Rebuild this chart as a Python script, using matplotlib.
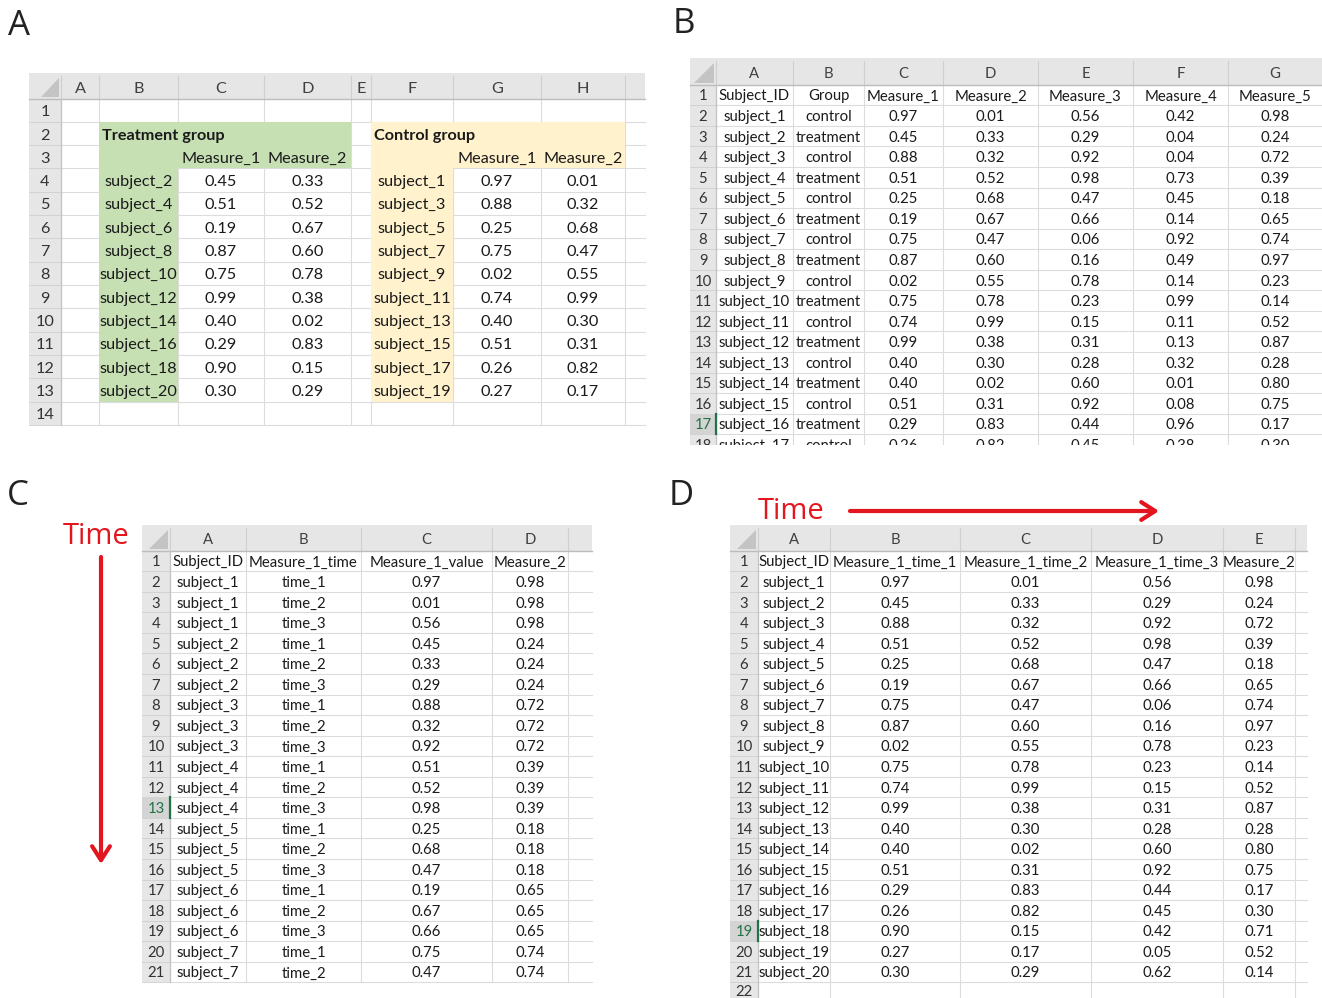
"""
Four spreadsheet layouts of the same small data set:
A grouped blocks, B one row per subject, C long format, D wide format.
"""

import numpy as np
import matplotlib
matplotlib.use("Agg")
import matplotlib.pyplot as plt
from matplotlib.patches import Rectangle, Polygon

subjects = ["subject_1", "subject_2", "subject_3", "subject_4", "subject_5",
            "subject_6", "subject_7", "subject_8", "subject_9", "subject_10",
            "subject_11", "subject_12", "subject_13", "subject_14", "subject_15",
            "subject_16", "subject_17", "subject_18", "subject_19", "subject_20"]
group = ["control", "treatment", "control", "treatment", "control",
         "treatment", "control", "treatment", "control", "treatment",
         "control", "treatment", "control", "treatment", "control",
         "treatment", "control", "treatment", "control", "treatment"]
measure_1 = [0.97, 0.45, 0.88, 0.51, 0.25, 0.19, 0.75, 0.87, 0.02, 0.75,
             0.74, 0.99, 0.40, 0.40, 0.51, 0.29, 0.26, 0.90, 0.27, 0.30]
measure_2 = [0.01, 0.33, 0.32, 0.52, 0.68, 0.67, 0.47, 0.60, 0.55, 0.78,
             0.99, 0.38, 0.30, 0.02, 0.31, 0.83, 0.82, 0.15, 0.17, 0.29]
measure_3 = [0.56, 0.29, 0.92, 0.98, 0.47, 0.66, 0.06, 0.16, 0.78, 0.23,
             0.15, 0.31, 0.28, 0.60, 0.92, 0.44, 0.45, 0.42, 0.05, 0.62]
# only the first 17 subjects are visible for this one
measure_4 = [0.42, 0.04, 0.04, 0.73, 0.45, 0.14, 0.92, 0.49, 0.14, 0.99,
             0.11, 0.13, 0.32, 0.01, 0.08, 0.96, 0.38]
measure_5 = [0.98, 0.24, 0.72, 0.39, 0.18, 0.65, 0.74, 0.97, 0.23, 0.14,
             0.52, 0.87, 0.28, 0.80, 0.75, 0.17, 0.30, 0.71, 0.52, 0.14]
time_labels = ["time_1", "time_2", "time_3"]

CELL_FONT = "Lato"
LABEL_FONT = "Open Sans"
GREEN = "#c6e0b4"
YELLOW = "#fff2cc"
HEAD = "#e6e6e6"
HEAD_LINE = "#cfcfcf"
GRID = "#dcdcdc"
RED = "#e3151e"
TEXT = "#1a1a1a"


def fmt(v):
    return f"{v:.2f}"


def draw_sheet(ax, edges, top, head_h, row_h, rows, letters, fills=None,
               bold=(), left=(), active=None, size=11.5):
    fills = fills or {}
    x0, x1 = edges[0], edges[-1]
    body = top + head_h
    bottom = body + len(rows) * row_h

    # header band and row-number column
    ax.add_patch(Rectangle((x0, top), x1 - x0, head_h, fc=HEAD, ec="none", zorder=1))
    ax.add_patch(Rectangle((x0, body), edges[1] - x0, bottom - body,
                           fc=HEAD, ec="none", zorder=1))

    for k in range(1, len(rows) + 1):
        y = body + k * row_h
        ax.plot([edges[1], x1], [y, y], color=GRID, lw=0.8, zorder=2)
        ax.plot([x0, edges[1]], [y, y], color=HEAD_LINE, lw=0.6, zorder=2)
    for x in edges[1:-1]:
        ax.plot([x, x], [body, bottom], color=GRID, lw=0.8, zorder=2)
        ax.plot([x, x], [top + 3, body], color=HEAD_LINE, lw=0.8, zorder=2)

    for (r, c), col in fills.items():
        ax.add_patch(Rectangle((edges[c + 1], body + r * row_h),
                               edges[c + 2] - edges[c + 1], row_h,
                               fc=col, ec="none", zorder=3))

    ax.plot([x0, x1], [body, body], color="#bcbcbc", lw=1.0, zorder=4)
    ax.plot([edges[1], edges[1]], [body, bottom], color="#c4c4c4", lw=0.9, zorder=4)

    # little corner triangle
    s = head_h - 7
    xr, yb = edges[1] - 2, body - 2
    ax.add_patch(Polygon([(xr, yb - s), (xr, yb), (xr - s, yb)], closed=True,
                         fc="#c4c4c4", ec="none", zorder=4))

    off = size * 100 / 72 * 0.37
    for i, letter in enumerate(letters):
        xc = (edges[i + 1] + edges[i + 2]) / 2
        ax.text(xc, top + head_h / 2 + off + 1, letter, ha="center", va="baseline",
                fontsize=size, color="#404040", family=CELL_FONT, zorder=5)

    for r, row in enumerate(rows):
        yc = body + (r + 0.5) * row_h
        num_color = "#333333"
        if active == r:
            ax.add_patch(Rectangle((x0, body + r * row_h), edges[1] - x0, row_h,
                                   fc="#d4d4d4", ec="none", zorder=3))
            ax.plot([edges[1], edges[1]], [body + r * row_h, body + (r + 1) * row_h],
                    color="#217346", lw=1.6, zorder=6)
            num_color = "#217346"
        ax.text((x0 + edges[1]) / 2, min(yc + off, 996), str(r + 1), ha="center",
                va="baseline", fontsize=size, color=num_color, family=CELL_FONT, zorder=5)
        for c, txt in enumerate(row):
            if not txt:
                continue
            if (r, c) in left:
                x, ha = edges[c + 1] + 3, "left"
            else:
                x, ha = (edges[c + 1] + edges[c + 2]) / 2, "center"
            ax.text(x, yc + off, txt, ha=ha, va="baseline", fontsize=size,
                    fontweight="bold" if (r, c) in bold else "normal",
                    color=TEXT, family=CELL_FONT, zorder=5)


fig = plt.figure(figsize=(13.22, 9.98), dpi=100)
ax = fig.add_axes([0, 0, 1, 1])
ax.set_xlim(0, 1322)
ax.set_ylim(998, 0)
ax.axis("off")

# ---- A: separate blocks per group
treat = [i for i, g in enumerate(group) if g == "treatment"]
ctrl = [i for i, g in enumerate(group) if g == "control"]
rows_a = [[""] * 9 for _ in range(14)]
rows_a[1][1] = "Treatment group"
rows_a[1][5] = "Control group"
rows_a[2][2:4] = ["Measure_1", "Measure_2"]
rows_a[2][6:8] = ["Measure_1", "Measure_2"]
for k, (t, c) in enumerate(zip(treat, ctrl)):
    rows_a[3 + k][1:4] = [subjects[t], fmt(measure_1[t]), fmt(measure_2[t])]
    rows_a[3 + k][5:8] = [subjects[c], fmt(measure_1[c]), fmt(measure_2[c])]
fills_a = {}
for r in (1, 2):
    for c in (1, 2, 3):
        fills_a[(r, c)] = GREEN
    for c in (5, 6, 7):
        fills_a[(r, c)] = YELLOW
for r in range(3, 13):
    fills_a[(r, 1)] = GREEN
    fills_a[(r, 5)] = YELLOW
draw_sheet(ax, [29, 61, 99, 178, 264, 351, 371, 453, 541, 625, 645], 73, 25.5, 23.33,
           rows_a, list("ABCDEFGH") + [""], fills=fills_a,
           bold={(1, 1), (1, 5)}, left={(1, 1), (1, 5)}, size=11.7)

# ---- B: one row per subject
rows_b = [["Subject_ID", "Group", "Measure_1", "Measure_2",
           "Measure_3", "Measure_4", "Measure_5"]]
for i in range(len(measure_4)):
    rows_b.append([subjects[i], group[i], fmt(measure_1[i]), fmt(measure_2[i]),
                   fmt(measure_3[i]), fmt(measure_4[i]), fmt(measure_5[i])])
draw_sheet(ax, [690, 716, 793, 864, 943, 1038, 1133, 1228, 1322], 58, 26.7, 20.56,
           rows_b, list("ABCDEFG"), active=16, size=10.7)
ax.add_patch(Rectangle((680, 445), 642, 25, fc="white", ec="none", zorder=10))

# ---- C: long format, time down the rows
rows_c = [["Subject_ID", "Measure_1_time", "Measure_1_value", "Measure_2", ""]]
by_time = [measure_1, measure_2, measure_3]
for i in range(7):
    for t, lab in enumerate(time_labels):
        rows_c.append([subjects[i], lab, fmt(by_time[t][i]), fmt(measure_5[i]), ""])
rows_c = rows_c[:21]
draw_sheet(ax, [142, 170, 246, 361, 492, 568, 592], 525, 25.7, 20.55,
           rows_c, ["A", "B", "C", "D", ""], active=12, size=10.7)

# ---- D: wide format, time across the columns
rows_d = [["Subject_ID", "Measure_1_time_1", "Measure_1_time_2",
           "Measure_1_time_3", "Measure_2", ""]]
for i in range(len(subjects)):
    rows_d.append([subjects[i], fmt(measure_1[i]), fmt(measure_2[i]),
                   fmt(measure_3[i]), fmt(measure_5[i]), ""])
rows_d.append([""] * 6)
draw_sheet(ax, [730, 758, 830, 960, 1091, 1223, 1295, 1307], 525, 25.7, 20.55,
           rows_d, ["A", "B", "C", "D", "E", ""], active=18, size=10.7)

# panel letters and the time arrows
for letter, x, y in [("A", 8, 35), ("B", 673, 33), ("C", 7, 505), ("D", 669, 505)]:
    ax.text(x, y, letter, fontsize=25, family=LABEL_FONT, color="#222222",
            ha="left", va="baseline")

ax.text(63, 544, "Time", fontsize=21, family=LABEL_FONT, color=RED,
        ha="left", va="baseline")
ax.annotate("", xy=(101, 864), xytext=(101, 557),
            arrowprops=dict(arrowstyle="->,head_length=0.5,head_width=0.32",
                            lw=3, color=RED, mutation_scale=20, shrinkA=0, shrinkB=0))
ax.text(758, 519, "Time", fontsize=21, family=LABEL_FONT, color=RED,
        ha="left", va="baseline")
ax.annotate("", xy=(1159, 511), xytext=(850, 511),
            arrowprops=dict(arrowstyle="->,head_length=0.5,head_width=0.32",
                            lw=3, color=RED, mutation_scale=20, shrinkA=0, shrinkB=0))

fig.savefig("out.png", dpi=100, facecolor="white")
